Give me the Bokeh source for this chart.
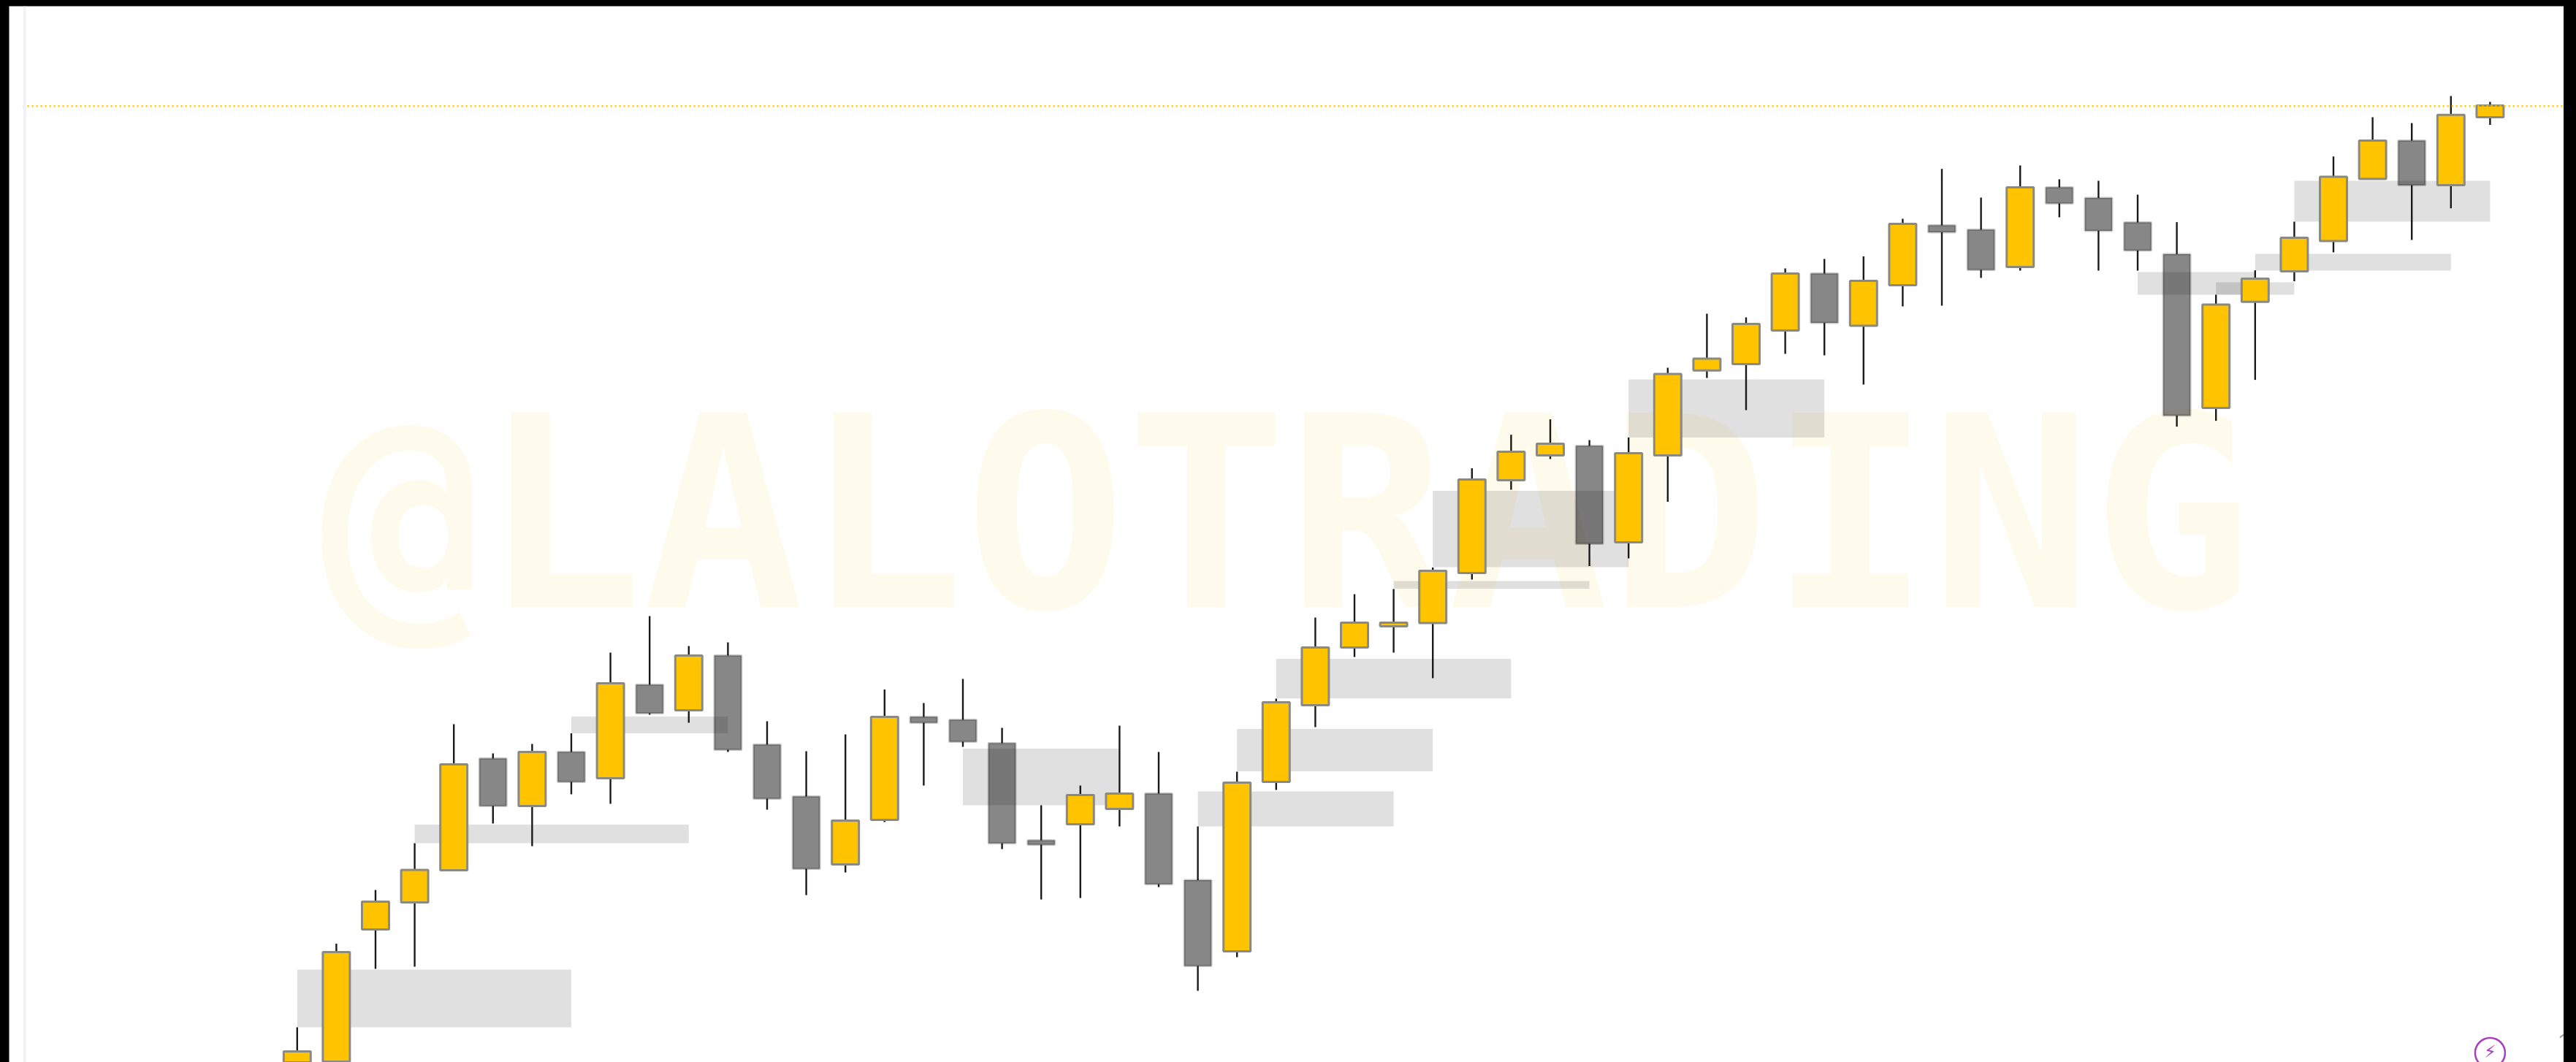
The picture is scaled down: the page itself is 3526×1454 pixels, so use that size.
from bokeh.embed import file_html
from bokeh.resources import INLINE
from bokeh.plotting import figure
from bokeh.models import Range1d, Span, GlobalInlineStyleSheet
from bokeh.core.properties import value

# price readings, one entry per candle, oldest first
high = [48,162.5,236,300,463,423,436,450.5,561,611,570,575,467,426,449,510.5,492,525,458,352,379,461,425,323,398,498,609,641,648,677.5,813.4,859.3,880.4,852,855.5,951,1025,1020,1087,1100,1103.5,1155,1223.3,1184,1228,1209,1207,1188,1150.4,1051,1084.4,1151,1240.2,1294,1286,1323,1315]
body_top = [15,151,220,263.5,408,416,425,425,519,517,557,557,435,364,331,473,473,469,437,304,366,368,368,249.5,383,493,568,602,602,673,798,836,847,844,834,942.4,963.4,1011,1080,1080,1070,1148,1146,1140,1198,1198,1183.5,1150,1106.6,1037.6,1073,1129,1212.4,1262,1262,1297.3,1310]
body_bot = [-26,1,182,219,263,351,351,384,389,478,482,428,361,265,271,332,465,439,300,298,326,347,244,132,152,384,489,568,597,601.4,670,797,831,710,712,831,947.3,956,1002,1012.4,1008.6,1064,1136.4,1085,1089,1176,1138.4,1111.5,885.4,896,1041.2,1083,1124.5,1209.4,1201,1201,1294]
low = [-46,0,128,131,262,327,296,367,354,476,465,425,346,229,260,329,379,432,292,223,225,323,240,98,144,373,459,555,561,526,661,784,826,679.5,690,767.5,937,893,970,968,928,1035,1036,1074,1084,1157,1084,1084,870.4,878.4,934.4,1069.4,1109,1209.4,1126,1169.3,1283.4]
bearish = [5,7,9,11,12,13,16,17,18,19,22,23,33,39,42,43,45,46,47,48,54]

# supply / demand zones: first candle, last candle, upper price, lower price
zone_start = [0,3,7,17,23,24,25,28,29,34,51,50,47,49]
zone_end = [7,10,11,21,28,29,31,33,34,39,56,55,50,51]
zone_top = [127,325.4,473.4,429.4,371,456.5,552.6,659,782.4,935,1207,1107,1082,1068]
zone_bot = [48,300,450.5,352,323,398.4,498.2,648.5,678,855.5,1151,1084,1051,1051]

last_price = 1309.3
watermark = "@LALOTRADING"

YELLOW = "#FFC300"
n = len(high)
xs = list(range(n))
up = [i for i in xs if i not in bearish]
down = bearish

p = figure(width=3509, height=1454, output_backend="svg", toolbar_location=None,
           x_range=Range1d(-7.356, 57.886), y_range=Range1d(0, 1446),
           min_border_left=12, min_border_right=0, min_border_top=8, min_border_bottom=0,
           border_fill_color="#000000", background_fill_color="#ffffff", outline_line_color=None)
p.xaxis.visible = False
p.yaxis.visible = False
p.grid.visible = False
p.stylesheets = [GlobalInlineStyleSheet(css="html,body{background:#000;margin:0;padding:0;overflow:hidden}")]

# watermark
p.text(x=[25.27], y=[750], text=[watermark], text_color=YELLOW, text_alpha=0.075,
       text_font=value("DejaVu Sans Mono"), text_font_style="bold", text_font_size="366px",
       text_align="center", text_baseline="alphabetic")

# left rail
p.add_layout(Span(location=-6.96, dimension="height", line_color="#F1F1F5", line_width=4))

# zones
p.quad(left=zone_start, right=zone_end, top=zone_top, bottom=zone_bot,
       fill_color="#000000", fill_alpha=0.12, line_color=None)

# wicks, upper and lower, stopping at the body
p.segment(x0=xs, x1=xs, y0=body_top, y1=high, line_color="#1A1A1A", line_width=2.4)
p.segment(x0=xs, x1=xs, y0=low, y1=body_bot, line_color="#1A1A1A", line_width=2.4)

# bodies
w = 0.69
p.vbar(x=up, width=w, top=[body_top[i] for i in up], bottom=[body_bot[i] for i in up],
       fill_color=YELLOW, line_color="#8A8A80", line_width=3)
p.vbar(x=down, width=w, top=[body_top[i] for i in down], bottom=[body_bot[i] for i in down],
       fill_color="#000000", fill_alpha=0.47, line_color="#000000", line_alpha=0.22, line_width=3)

# last price line, above the candles
p.line(x=[-7, 58], y=[last_price, last_price], line_color=YELLOW, line_width=2.5, line_dash="2 4")

# corner badge
p.scatter(x=[56], y=[13], size=41, marker="circle", fill_color=None, line_color="#A93FBF", line_width=2.5)
p.text(x=[56], y=[15], text=["\u26A1"], text_color="#A93FBF", text_font=value("DejaVu Sans"),
       text_font_size="24px", text_align="center", text_baseline="middle")
p.segment(x0=[57.78], x1=[57.88], y0=[34], y1=[38], line_color="#999999", line_width=2)

open("out.html", "w").write(file_html(p, INLINE))
